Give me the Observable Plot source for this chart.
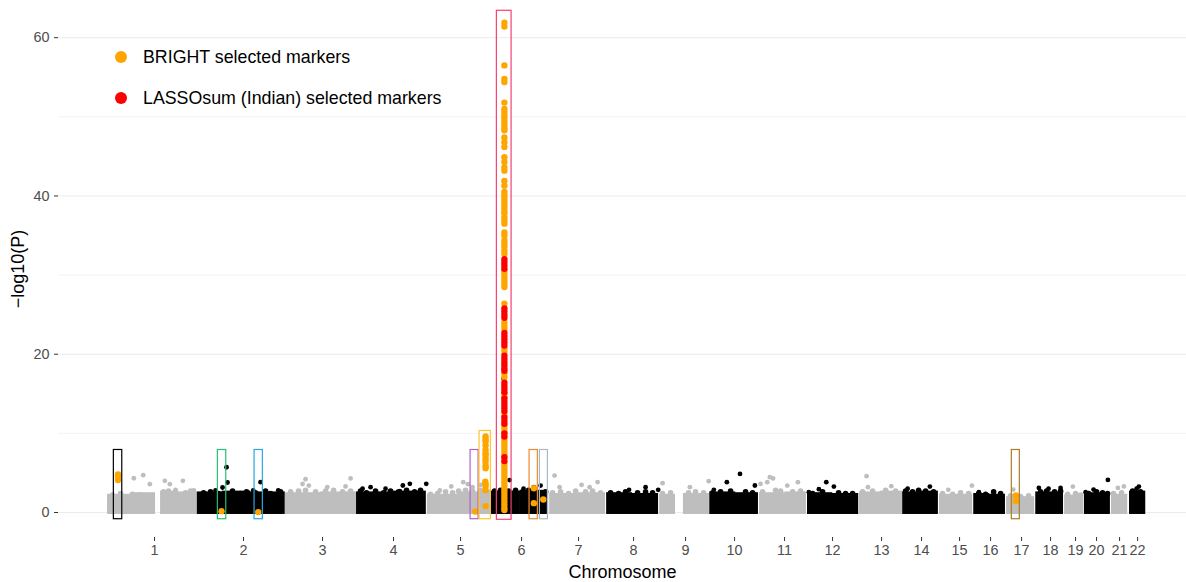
<!DOCTYPE html>
<html><head><meta charset="utf-8">
<script src="https://cdn.jsdelivr.net/npm/d3@7"></script>
<script src="https://cdn.jsdelivr.net/npm/@observablehq/plot@0.6"></script>
<style>
body{margin:0;background:#fff;font-family:"Liberation Sans",Arial,sans-serif}
#wrap{position:relative;width:1186px;height:582px}
.leg{position:absolute;left:115px;height:24px;line-height:24px;display:flex;align-items:center;font-size:17.8px;color:#000;white-space:nowrap}
.leg i{display:inline-block;width:12px;height:12px;border-radius:50%;margin-right:16px}
</style></head><body><div id="wrap"></div>
<script>
// chromosome tick positions (cumulative Mb) and labels
const chromLabels = ["1","2","3","4","5","6","7","8","9","10","11","12","13","14","15","16","17","18","19","20","21","22"];
const tickMb = [130.3,377.1,596.2,793.1,978.9,1148.1,1306.2,1458.7,1602.9,1738.8,1877.4,2010.5,2146.4,2257.3,2362.7,2448.7,2534.7,2615.1,2684.4,2742.6,2806.4,2856.4];
const yTicks = [0,20,40,60];
const yMinor = [10,30,50];

// dense background cloud of each chromosome (cumulative Mb, top of the cloud in -log10 P)
const bandChr   = [1,1,1,1, 2,2,2, 3,3, 4,4, 5,5, 6,6, 7,7, 8,8, 9,9, 10,10, 11,11, 12,12, 13,13, 14,14, 15, 16,16, 17, 18, 19, 20, 21, 22];
const bandStart = [0,63.0,147.0,196.0, 249,318.0,396.0, 493,590.0, 690.5,790.0, 887,978, 1062,1144, 1226,1305, 1384,1455, 1531,1597, 1670,1741, 1808,1879, 1941,2010, 2085,2143, 2205,2254, 2307, 2402,2445, 2493, 2574, 2654, 2709, 2784, 2834];
const bandEnd   = [63.8,133.1,196.9,249, 318.9,396.6,493, 590.7,690.5, 790.4,884, 979,1062, 1145,1223, 1306,1381, 1456,1528, 1575,1669, 1742,1805, 1880,1938, 2011,2083, 2144,2205, 2255,2304, 2399, 2446,2490, 2571, 2651, 2707, 2781, 2829, 2879];
const bandTop   = [2.3,2.5,2.7,2.6, 2.6,2.7,2.6, 2.5,2.6, 2.6,2.7, 2.3,2.6, 2.7,2.8, 2.4,2.5, 2.5,2.4, 2.3,2.4, 2.6,2.5, 2.5,2.6, 2.5,2.4, 2.6,2.7, 2.6,2.7, 2.3, 2.4,2.3, 2.0, 2.6, 2.2, 2.5, 2.3, 2.7];

// markers along the ragged upper edge of the cloud
const edgeChr = [1,1,1,1,1,1,1,1,1,1, 2,2,2,2,2,2,2,2,2,2, 3,3,3,3,3,3,3,3, 4,4,4,4,4,4,4,4,4, 5,5,5,5,5,5,5,5,5, 6,6,6,6,6,6,6,6, 7,7,7,7,7,7,7, 8,8,8,8,8,8, 9,9,9,9,9, 10,10,10,10,10, 11,11,11,11,11, 12,12,12,12,12, 13,13,13,13, 14,14,14,14,14, 15,15,15,15, 16,16,16,16, 17,17,17, 18,18,18,18, 19,19,19, 20,20,20,20, 21,21, 22,22];
const edgePos = [13.9,36.1,69.3,91.5,119.2,155.3,169.2,188.6,216.3,230.2, 266.2,285.6,307.8,346.7,368.8,385.5,410.4,438.2,452.0,479.8, 507.5,529.7,549.1,576.9,604.6,626.8,651.7,673.9, 701.6,718.2,743.2,765.4,784.8,807.0,829.2,851.4,868.0, 895.7,915.2,937.3,956.8,973.4,992.8,1012.2,1034.4,1053.8, 1073.2,1089.9,1112.1,1131.5,1150.9,1167.5,1186.9,1214.6, 1234.1,1256.2,1278.4,1297.9,1325.6,1345.0,1367.2, 1394.9,1417.1,1436.5,1469.8,1492.0,1511.4, 1539.1,1561.3,1611.2,1630.6,1652.8, 1677.8,1700.0,1727.7,1769.3,1788.7, 1816.4,1852.5,1866.4,1899.7,1921.8, 1955.1,1982.8,2027.2,2046.6,2066.0, 2093.8,2121.5,2157.6,2185.3, 2213.0,2232.4,2249.1,2268.5,2290.7, 2315.6,2343.4,2365.5,2387.7, 2415.5,2434.9,2457.1,2476.5, 2504.2,2531.9,2554.1, 2587.4,2604.0,2626.2,2642.8, 2662.3,2684.4,2698.3, 2720.5,2742.6,2759.3,2773.2, 2789.8,2812.0, 2842.5,2864.7];
const edgeVal = [2.2,2.4,2.3,2.2,2.1,2.6,2.7,2.6,2.5,2.7, 2.5,2.6,2.4,2.7,2.4,2.6,2.5,2.7,2.4,2.6, 2.6,2.7,2.8,2.6,2.7,2.8,2.6,2.7, 2.7,2.5,2.7,2.5,2.7,2.6,2.8,2.6,2.8, 2.3,2.4,2.6,2.5,2.7,2.8,2.7,2.8,2.6, 2.7,2.8,2.7,2.8,2.6,2.8,2.7,2.6, 2.5,2.6,2.4,2.7,2.6,2.7,2.5, 2.5,2.4,2.6,2.5,2.6,2.5, 2.4,2.5,2.5,2.6,2.5, 2.5,2.6,2.7,2.6,2.5, 2.6,2.8,2.7,2.6,2.7, 2.4,2.6,2.5,2.4,2.4, 2.6,2.7,2.8,2.7, 2.7,2.6,2.8,2.7,2.6, 2.4,2.3,2.5,2.4, 2.4,2.3,2.6,2.4, 2.1,2.0,2.1, 2.6,2.7,2.6,2.7, 2.3,2.4,2.2, 2.4,2.6,2.5,2.4, 2.4,2.5, 2.7,2.6];

// scattered background markers above the cloud
const bgChr = [1,1,1,1,1,1,1,1, 2,2,2,2,2,2,2, 3,3,3,3,3,3, 4,4,4,4,4,4,4, 5,5,5,5,5,5, 6,6,6,6,6, 7,7,7,7,7, 8,8,8, 9,9,9, 10,10,10,10, 11,11,11,11,11,11, 12,12,12,12, 13,13,13, 14,14, 15,15, 16, 17, 18,18,18, 19, 20,20,20, 21,21, 22,22];
const bgPos = [72.9,99.0,117.3,158.9,172.8,209,239.4,188.5, 330.0,332.8,318.9,424.3,404.1,473.4,299.5, 549.1,673.9,558.2,609.3,540.8,660, 838.3,818.9,883.8,810.6,729.4,707.2,770.9, 986.4,999.2,921.5,953.1,1034.4,1012.2, 1114.8,1153.6,1200.8,1098.2,1182, 1239.6,1253.5,1314.5,1358.9,1336.7, 1492.0,1446.2,1527, 1539.1,1667,1614.8, 1753.8,1717.4,1681.3,1795.1, 1836.7,1845.5,1810.9,1914.4,1885.0,1829.5, 1993.1,1972.6,2014.2,1944.8, 2104.9,2108.5,2173.3, 2280.4,2218.6, 2331.4,2397, 2416.3, 2511.6, 2582.6,2642.8,2609.5, 2676.9, 2774.0,2712.2,2734.3, 2801.7,2818.3, 2859.9,2853.6];
const bgVal = [4.33,4.72,3.58,4.0,3.58,4.0,2.78,2.86, 5.72,3.79,3.16,3.83,2.78,2.78,2.78, 4.2,4.3,3.4,3.2,3.6,3.3, 3.62,3.41,3.62,2.7,3.2,3.0,3.0, 3.83,3.58,2.78,3.3,3.5,3.2, 4.1,3.0,3.4,16.9,3.2, 4.67,3.2,3.5,3.85,3.2, 3.2,2.86,2.86, 3.7,3.96,3.2, 4.88,3.83,2.86,3.41, 4.46,4.3,3.62,3.83,3.4,3.83, 3.83,2.95,3.28,2.57, 4.59,3.2,3.33, 3.28,3.0, 2.86,3.4, 2.57, 2.9, 3.1,3.1,3.0, 3.28, 4.12,2.57,2.9, 3.1,3.3, 3.28,3.0];

// BRIGHT selected markers outside the MHC column
const orangePos = [29.1,29.1,29.1, 316.1, 417.9, 1019.7, 1048.3,1048.3,1048.3,1048.3,1048.3,1048.3,1048.3,1048.3,1048.3,1048.3,1048.3,1047.5,1048.3,1048.3,1048.3,1048.3, 1182.2,1182.2, 1208.3, 2518.9,2518.9];
const orangeVal = [4.8,4.5,4.1, 0.17, 0.05, 0.13, 9.6,9.3,9.0,8.5,7.9,7.5,7.2,6.8,6.4,5.9,5.6,3.9,3.6,3.3,2.8,0.8, 3.07,1.18, 1.64, 2.15,1.43];

// MHC column on chromosome 6
const mhcPos = 1100.5;
const mhcOrange = [61.9,61.4,56.5,54.8,54.4,51.8,51.0,50.6,50.2,49.8,49.4,49.0,48.6,48.3,47.4,46.8,46.2,44.9,44.3,43.6,43.2,41.9,41.3,40.5,40.1,39.7,39.3,38.9,38.5,38.1,37.8,37.3,36.9,36.5,35.4,35.0,34.4,34.0,33.6,33.1,32.7,30.6,30.2,29.7,29.3,28.9,28.5,26.4,24.0,23.6,23.2,20.7,20.3,17.6,17.1,15.0,14.6,12.3,11.0,10.6,10.2,9.4,9.0,8.6,8.2,7.8,7.4,7.0,6.2,5.8,5.4,5.0,4.6,4.2,3.8,3.4,3.0,2.6,2.2,1.8,1.4,1.0,0.6,0.3];
const mhcRed = [32.0,31.6,31.2,30.8,25.8,25.4,25.0,24.6,22.7,22.3,21.9,21.5,21.1,19.8,19.4,19.0,18.6,18.2,17.9,16.4,16.0,15.6,15.2,14.4,14.0,13.6,13.2,12.8,12.0,11.6,11.2,10.0,9.6,7.0,6.5];

// highlight boxes
const boxColor = ["#000000","#22C173","#2AA6DE","#B25FCB","#FFC52A","#F5416F","#EE8A2D","#A9BAC6","#AD7C27"];
const boxX1 = [17.5,305.9,407.7,1006.7,1031.6,1079.6,1170.3,1198.9,2507.6];
const boxX2 = [40.8,329.2,430.7,1028.9,1063.0,1120.4,1193.3,1221.1,2529.8];
const boxY1 = [-0.85,-0.85,-0.85,-0.85,-0.85,-0.92,-0.85,-0.85,-0.85];
const boxY2 = [7.9,7.9,7.9,7.9,10.3,63.4,7.9,7.9,7.9];

const legendLabels = ["BRIGHT selected markers","LASSOsum (Indian) selected markers"];
const legendColors = ["#FFA500","#FF0000"];

const chrColor = c => (c % 2 ? "#BEBEBE" : "#000000");
const bands = bandChr.map((c,i)=>({chr:c,x1:bandStart[i],x2:bandEnd[i],top:bandTop[i]}));
const edge = edgeChr.map((c,i)=>({chr:c,pos:edgePos[i],p:edgeVal[i]}));
const bg = bgChr.map((c,i)=>({chr:c,pos:bgPos[i],p:bgVal[i]}));
const hiOrange = orangePos.map((x,i)=>({pos:x,p:orangeVal[i]})).concat(mhcOrange.map(p=>({pos:mhcPos,p})));
const hiRed = mhcRed.map(p=>({pos:mhcPos,p}));
const boxes = boxColor.map((c,i)=>({c,x1:boxX1[i],x2:boxX2[i],y1:boxY1[i],y2:boxY2[i]}));

const plot = Plot.plot({
  width:1186, height:582,
  marginLeft:58, marginRight:0, marginTop:0, marginBottom:45,
  style:{fontFamily:"Liberation Sans, Arial, sans-serif", background:"#fff", overflow:"visible"},
  x:{domain:[-136,2992]},
  y:{domain:[-3.16,64.7]},
  marks:[
    Plot.ruleY(yMinor,{stroke:"#EBEBEB",strokeWidth:0.6}),
    Plot.ruleY(yTicks,{stroke:"#EBEBEB",strokeWidth:1.1}),
    Plot.rect(bands,{x1:"x1",x2:"x2",y1:-0.25,y2:"top",fill:d=>chrColor(d.chr)}),
    Plot.dot(edge,{x:"pos",y:"p",r:2.8,fill:d=>chrColor(d.chr)}),
    Plot.dot(bg,{x:"pos",y:"p",r:2.4,fill:d=>chrColor(d.chr)}),
    Plot.dot(hiOrange,{x:"pos",y:"p",r:3.2,fill:"#FFA500"}),
    Plot.dot(hiRed,{x:"pos",y:"p",r:3.2,fill:"#FF0000"}),
    Plot.rect(boxes,{x1:"x1",x2:"x2",y1:"y1",y2:"y2",fill:"none",stroke:"c",strokeWidth:1.2}),
    Plot.axisX(tickMb,{tickFormat:d=>chromLabels[tickMb.indexOf(d)],tickSize:4,tickPadding:3,fontSize:14.4,stroke:"#333333",fill:"#4D4D4D",label:null}),
    Plot.axisY(yTicks,{tickSize:4,tickPadding:5,fontSize:14.4,stroke:"#333333",fill:"#4D4D4D",label:null}),
    Plot.text(["Chromosome"],{frameAnchor:"bottom",textAnchor:"middle",lineAnchor:"middle",dy:35,fontSize:18,fill:"#000"}),
    Plot.text(["\u2212log10(P)"],{frameAnchor:"left",textAnchor:"middle",lineAnchor:"middle",rotate:-90,dx:-40,fontSize:18,fill:"#000"})
  ]
});
const wrap = document.getElementById("wrap");
wrap.appendChild(plot);
legendLabels.forEach((t,i)=>{
  const d = document.createElement("div");
  d.className = "leg";
  d.style.top = (45 + i*41) + "px";
  const dot = document.createElement("i");
  dot.style.background = legendColors[i];
  d.appendChild(dot);
  d.appendChild(document.createTextNode(t));
  wrap.appendChild(d);
});
</script></body></html>
